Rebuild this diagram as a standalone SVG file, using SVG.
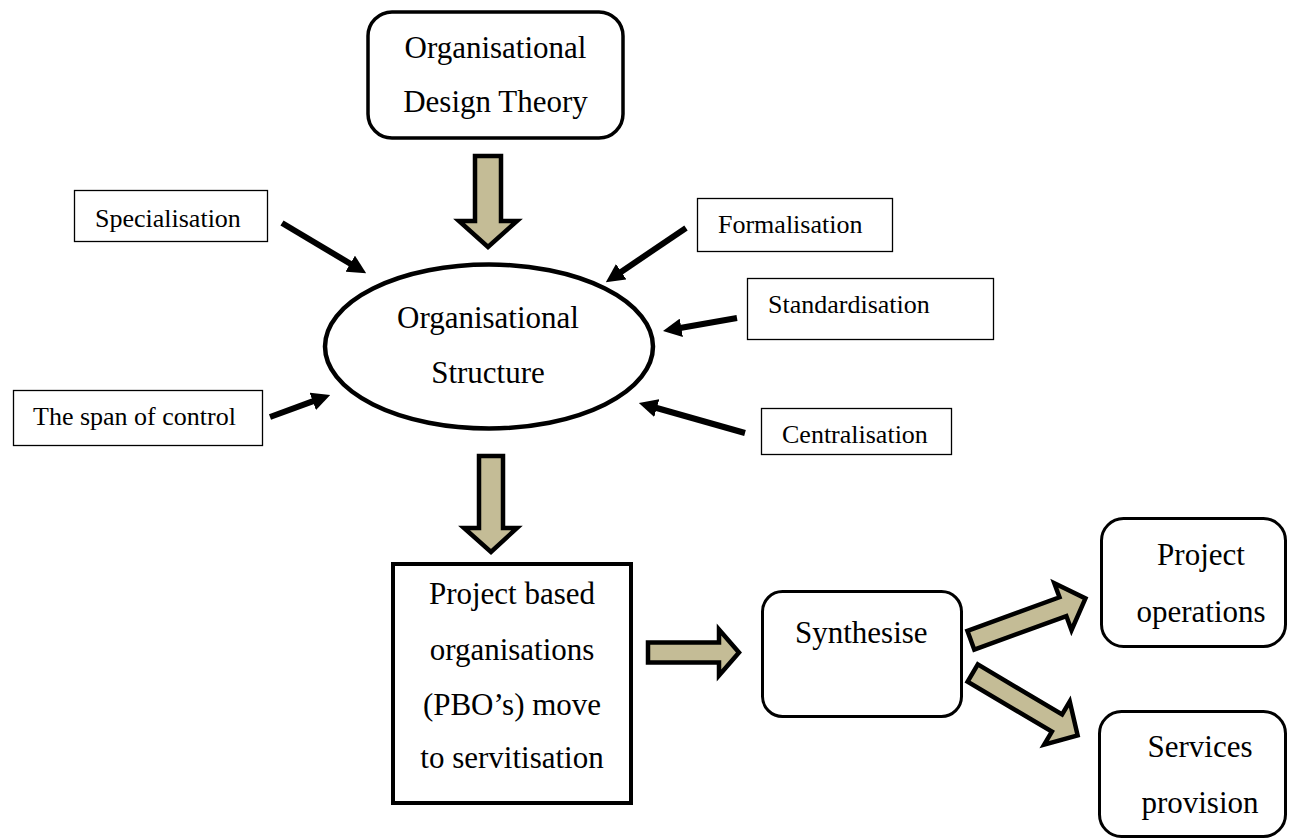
<svg xmlns="http://www.w3.org/2000/svg" width="1289" height="840" viewBox="0 0 1289 840" font-family="'Liberation Serif', 'Times New Roman', Times, serif">
<style>
text{font-family:'Liberation Serif','Times New Roman',Times,serif;fill:#000}
.big{font-size:31px}
.sm{font-size:26px}
.c{text-anchor:middle}
.rbox{fill:#fff;stroke:#000;stroke-width:3.5}
.sbox{fill:#fff;stroke:#000;stroke-width:1.3}
.blk{fill:#C4BC96;stroke:#000;stroke-width:4.5;stroke-linejoin:miter;stroke-miterlimit:10}
.thin{stroke:#000;stroke-width:6;fill:none}
</style>
<defs>
<marker id="ah" viewBox="0 0 10 10" refX="3" refY="5" markerWidth="3.1" markerHeight="3.1" orient="auto" markerUnits="strokeWidth">
<path d="M0,0 L10,5 L0,10 z" fill="#000"/>
</marker>
</defs>
<rect width="1289" height="840" fill="#fff"/>

<g id="connectors">
<polygon class="blk" points="475,156 501,156 501,221 517,221 488,247 459,221 475,221"/>
<polygon class="blk" points="479,456 503,456 503,528 517,528 491,552 464,528 479,528"/>
<polygon class="blk" points="648,642.5 719,642.5 719,629.5 739,652.5 719,675.5 719,662.5 648,662.5"/>
<polygon class="blk" transform="translate(969,641) rotate(-20.1)" points="2,-10 100,-10 100,-25 124,0 100,25 100,10 2,10"/>
<polygon class="blk" transform="translate(971,672) rotate(30.7)" points="2,-10 100,-10 100,-25 124,0 100,25 100,10 2,10"/>
<line class="thin" x1="282" y1="223" x2="355" y2="266.5" marker-end="url(#ah)"/>
<line class="thin" x1="270" y1="417" x2="318" y2="399.4" marker-end="url(#ah)"/>
<line class="thin" x1="686" y1="228" x2="616.6" y2="274.9" marker-end="url(#ah)"/>
<line class="thin" x1="737" y1="318" x2="675.8" y2="328.8" marker-end="url(#ah)"/>
<line class="thin" x1="745" y1="433" x2="651.4" y2="406.5" marker-end="url(#ah)"/>
</g>

<g id="design-theory">
<rect class="rbox" x="368" y="12" width="255" height="126" rx="24"/>
<text class="big c" x="495.5" y="58">Organisational</text>
<text class="big c" x="495.5" y="112">Design Theory</text>
</g>

<g id="org-structure">
<ellipse cx="489" cy="346.5" rx="164" ry="82" fill="#fff" stroke="#000" stroke-width="4.5"/>
<text class="big c" x="488" y="328">Organisational</text>
<text class="big c" x="488" y="383">Structure</text>
</g>

<g id="specialisation">
<rect class="sbox" x="74.5" y="190.5" width="193" height="51"/>
<text class="sm" x="95" y="227">Specialisation</text>
</g>

<g id="span-of-control">
<rect class="sbox" x="13.5" y="390.5" width="249" height="55"/>
<text class="sm" x="33" y="425">The span of control</text>
</g>

<g id="formalisation">
<rect class="sbox" x="697.5" y="198.5" width="195" height="53"/>
<text class="sm" x="718" y="233">Formalisation</text>
</g>

<g id="standardisation">
<rect class="sbox" x="747.5" y="278.5" width="246" height="61"/>
<text class="sm" x="768" y="313">Standardisation</text>
</g>

<g id="centralisation">
<rect class="sbox" x="761.5" y="408.5" width="190" height="46"/>
<text class="sm" x="782" y="443">Centralisation</text>
</g>

<g id="pbo">
<rect x="393" y="564" width="238" height="239" fill="#fff" stroke="#000" stroke-width="4"/>
<text class="big c" x="512" y="604">Project based</text>
<text class="big c" x="512" y="660">organisations</text>
<text class="big c" x="512" y="715">(PBO’s) move</text>
<text class="big c" x="512" y="768">to servitisation</text>
</g>

<g id="synthesise">
<rect class="rbox" x="762.5" y="591.5" width="199" height="125" rx="20" style="stroke-width:3"/>
<text class="big" x="795" y="643">Synthesise</text>
</g>

<g id="project-operations">
<rect class="rbox" x="1101.5" y="518.5" width="184" height="128" rx="22" style="stroke-width:3"/>
<text class="big c" x="1201" y="565">Project</text>
<text class="big c" x="1201" y="622">operations</text>
</g>

<g id="services-provision">
<rect class="rbox" x="1099.5" y="711.5" width="186" height="125" rx="22" style="stroke-width:3"/>
<text class="big c" x="1200" y="757">Services</text>
<text class="big c" x="1200" y="813">provision</text>
</g>
</svg>
